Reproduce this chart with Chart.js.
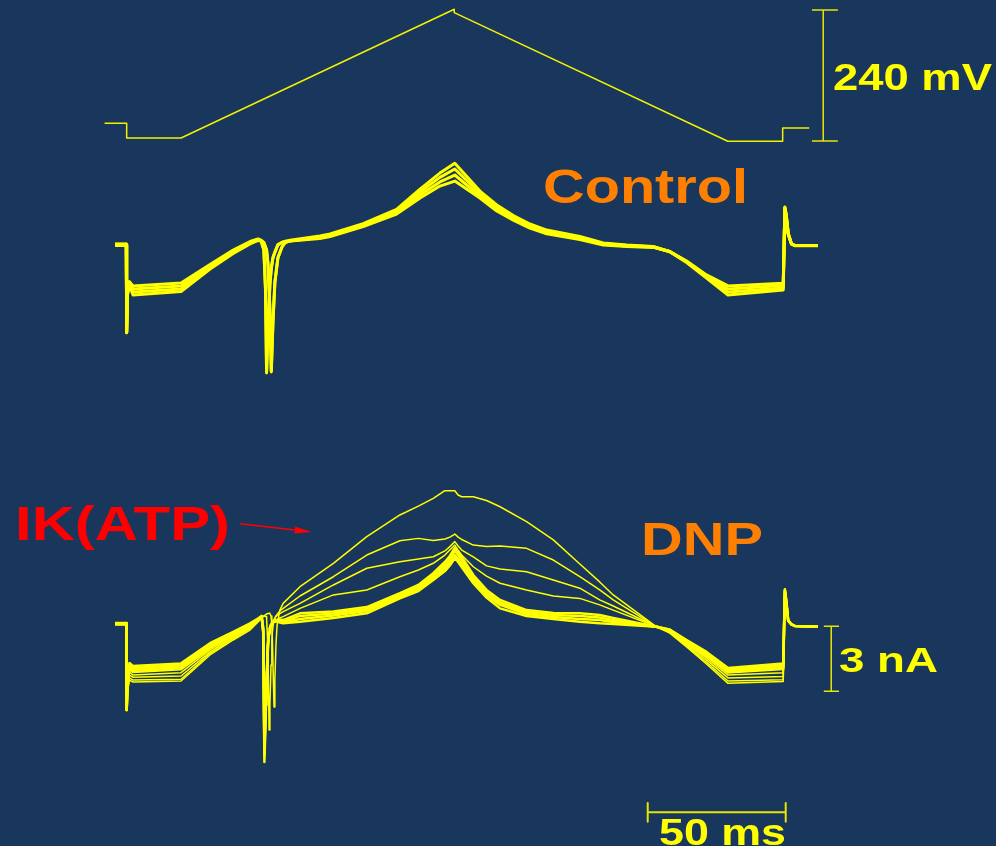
<!DOCTYPE html>
<html>
<head>
<meta charset="utf-8">
<script src="https://cdn.jsdelivr.net/npm/chart.js@4"></script>
<style>
html,body{margin:0;padding:0;background:#19365d;overflow:hidden;}
canvas{display:block;}
</style>
</head>
<body>
<canvas id="c" width="996" height="846"></canvas>
<script>
// ---------- DATA (time in ms, voltage in mV, current in nA) ----------
const protoTime    = [-8.0, 0.0, 0.0, 19.7, 118.7, 118.7, 217.8, 237.7, 237.7, 247.3];
const protoVoltage = [-87.6, -87.6, -114.5, -114.5, 121.3, 115.1, -120.5, -120.5, -96.2, -96.2];

const ctrlTime = [-4.2, -0.15, 0.0, 0.3, 1.0, 2.3, 19.7, 30.2, 38.6, 44.7, 47.6, 48.7, 49.7, 50.3, 50.7, 51.2, 51.9, 52.4, 53.0, 53.7, 54.8, 56.3, 57.4, 59.2, 70.0, 73.7, 85.7, 97.8, 106.3, 113.5, 118.9, 128.0, 134.1, 140.1, 146.1, 152.2, 164.2, 172.7, 181.2, 190.8, 196.8, 202.9, 210.1, 217.9, 237.9, 238.5, 239.0, 239.7, 240.9, 242.1, 250.5];
const ctrlSweep1 = [0.05, 0.05, -4.05, -2.30, -1.85, -2.31, -2.15, -1.11, -0.39, 0.05, 0.21, 0.18, -0.23, -2.08, -5.91, -3.92, -1.85, -1.10, -0.60, -0.35, 0.00, 0.12, 0.16, 0.22, 0.42, 0.51, 0.99, 1.64, 2.58, 3.32, 3.77, 2.49, 1.85, 1.36, 0.97, 0.69, 0.39, 0.09, 0.00, -0.07, -0.31, -0.81, -1.52, -2.31, -2.08, 1.75, 1.38, 0.55, 0.05, -0.02, -0.02];
const ctrlSweep2 = [0.03, 0.03, -4.00, -2.25, -1.78, -2.17, -2.03, -1.04, -0.34, 0.09, 0.23, 0.20, 0.10, -0.10, -0.25, -0.90, -3.00, -5.86, -3.60, -1.75, -0.60, -0.09, 0.10, 0.20, 0.37, 0.48, 0.95, 1.57, 2.45, 3.12, 3.51, 2.38, 1.75, 1.29, 0.90, 0.63, 0.35, 0.06, -0.02, -0.08, -0.31, -0.78, -1.48, -2.17, -1.98, 1.70, 1.35, 0.52, 0.04, -0.02, -0.02];
const ctrlSweep3 = [0.01, 0.01, -4.05, -2.20, -1.72, -2.03, -1.89, -0.97, -0.28, 0.12, 0.25, 0.20, -0.20, -2.00, -5.85, -3.85, -1.80, -1.05, -0.58, -0.32, 0.02, 0.13, 0.17, 0.19, 0.35, 0.44, 0.90, 1.50, 2.31, 2.91, 3.23, 2.26, 1.66, 1.22, 0.85, 0.58, 0.30, 0.03, -0.05, -0.09, -0.30, -0.76, -1.43, -2.03, -1.87, 1.72, 1.36, 0.53, 0.05, -0.03, -0.03];
const ctrlSweep4 = [-0.02, -0.02, -4.00, -2.15, -1.69, -1.89, -1.75, -0.90, -0.23, 0.16, 0.28, 0.22, 0.12, -0.08, -0.22, -0.85, -2.95, -5.80, -3.55, -1.70, -0.58, -0.08, 0.12, 0.18, 0.30, 0.39, 0.85, 1.43, 2.17, 2.72, 2.95, 2.17, 1.57, 1.15, 0.78, 0.52, 0.25, 0.00, -0.07, -0.11, -0.30, -0.74, -1.38, -1.89, -1.77, 1.68, 1.33, 0.50, 0.04, -0.02, -0.02];

const dnpTime = [-4.2, -0.15, 0.0, 0.3, 1.0, 2.3, 19.7, 30.2, 38.6, 44.7, 47.6, 48.9, 49.5, 49.9, 50.5, 50.7, 51.2, 51.6, 51.9, 52.3, 52.6, 52.8, 53.2, 53.4, 53.7, 54.1, 54.5, 55.5, 56.7, 62.8, 74.9, 87.0, 99.0, 105.7, 111.1, 115.3, 117.1, 118.9, 120.1, 121.4, 125.6, 130.4, 135.3, 144.9, 154.6, 164.2, 171.4, 176.3, 192.0, 196.8, 202.9, 210.1, 217.9, 237.9, 238.5, 239.0, 239.7, 240.9, 242.1, 250.5];
const dnpSweepA = [0.09, 0.09, -3.65, -3.00, -2.45, -2.54, -2.49, -1.29, -0.60, -0.14, 0.23, 0.42, 0.48, 0.53, 0.58, 0.60, 0.62, 0.63, 0.62, 0.51, 0.09, -0.60, -2.68, -3.69, -2.45, -0.83, 0.09, 0.78, 1.09, 1.86, 2.94, 4.17, 5.17, 5.58, 5.94, 6.29, 6.29, 6.29, 6.09, 6.01, 6.01, 5.84, 5.55, 4.86, 4.02, 2.91, 2.08, 1.48, 0.01, -0.28, -0.92, -1.71, -2.60, -2.52, 1.75, 1.25, 0.32, 0.12, 0.05, 0.01];
const dnpSweepB = [0.11, 0.11, -3.83, -2.91, -2.35, -2.45, -2.41, -1.22, -0.54, -0.09, 0.28, 0.46, 0.51, 0.51, 0.48, 0.42, -1.06, -4.75, -3.60, -1.75, -0.60, -0.23, 0.18, 0.32, 0.42, 0.51, 0.58, 0.74, 0.86, 1.43, 2.32, 3.32, 3.98, 4.09, 3.99, 4.06, 4.15, 4.29, 4.15, 4.04, 3.78, 3.71, 3.74, 3.63, 3.09, 2.32, 1.71, 1.25, 0.01, -0.25, -0.88, -1.62, -2.49, -2.43, 1.73, 1.22, 0.32, 0.12, 0.05, 0.01];
const dnpSweepC = [0.12, 0.12, -3.83, -2.82, -2.22, -2.32, -2.26, -1.15, -0.48, -0.05, 0.30, 0.44, -0.23, -4.98, -2.82, -2.26, -0.65, -0.23, 0.00, 0.14, 0.21, 0.25, 0.32, 0.37, 0.42, 0.48, 0.53, 0.62, 0.71, 1.09, 1.94, 2.71, 3.01, 3.14, 3.24, 3.51, 3.71, 3.94, 3.74, 3.55, 3.24, 2.82, 2.68, 2.55, 2.17, 1.79, 1.25, 0.97, 0.01, -0.23, -0.83, -1.52, -2.35, -2.29, 1.71, 1.20, 0.32, 0.12, 0.05, 0.01];
const dnpSweepD = [0.14, 0.14, -3.83, -2.72, -2.08, -2.22, -2.11, -1.06, -0.44, 0.00, 0.32, 0.44, -0.14, -5.45, -3.05, -2.45, -0.74, -0.25, -0.02, 0.12, 0.18, 0.21, 0.25, 0.28, 0.30, 0.32, 0.35, 0.42, 0.48, 0.86, 1.48, 1.71, 2.32, 2.63, 2.94, 3.32, 3.55, 3.78, 3.55, 3.32, 2.78, 2.35, 2.02, 1.71, 1.43, 1.32, 1.02, 0.78, 0.01, -0.21, -0.78, -1.43, -2.22, -2.11, 1.71, 1.20, 0.32, 0.12, 0.05, 0.01];
const dnpSweepE = [0.18, 0.18, -3.83, -2.68, -1.94, -2.08, -1.95, -0.97, -0.37, 0.05, 0.32, 0.46, -0.32, -6.23, -3.60, -2.82, -0.88, -0.28, -0.05, 0.09, 0.16, 0.18, 0.23, 0.25, 0.28, 0.30, 0.32, 0.35, 0.32, 0.63, 0.72, 0.92, 1.56, 1.94, 2.48, 3.00, 3.28, 3.65, 3.46, 3.23, 2.40, 1.71, 1.25, 0.78, 0.65, 0.63, 0.55, 0.42, 0.01, -0.18, -0.74, -1.34, -2.10, -1.94, 1.74, 1.25, 0.32, 0.12, 0.05, 0.01];
const dnpSweepF = [0.17, 0.17, -3.83, -2.68, -1.85, -1.98, -1.86, -0.90, -0.32, 0.08, 0.35, 0.46, -0.23, -5.58, -3.18, -2.54, -0.78, -0.28, -0.05, 0.09, 0.16, 0.18, 0.23, 0.25, 0.28, 0.30, 0.30, 0.30, 0.24, 0.51, 0.62, 0.83, 1.48, 1.85, 2.38, 2.86, 3.14, 3.51, 3.32, 3.09, 2.28, 1.59, 1.13, 0.69, 0.55, 0.51, 0.44, 0.32, 0.01, -0.16, -0.69, -1.29, -2.03, -1.85, 1.71, 1.20, 0.30, 0.12, 0.05, 0.01];
const dnpSweepG = [0.16, 0.16, -3.83, -2.68, -1.75, -1.89, -1.77, -0.83, -0.28, 0.12, 0.37, 0.48, -0.14, -5.91, -3.37, -2.68, -0.83, -0.28, -0.05, 0.09, 0.16, 0.18, 0.23, 0.25, 0.28, 0.30, 0.28, 0.25, 0.21, 0.37, 0.53, 0.74, 1.40, 1.75, 2.28, 2.72, 2.98, 3.32, 3.14, 2.91, 2.15, 1.48, 1.02, 0.60, 0.46, 0.37, 0.32, 0.23, 0.01, -0.14, -0.65, -1.22, -1.96, -1.75, 1.66, 1.15, 0.28, 0.12, 0.05, 0.01];
const dnpSweepH = [0.15, 0.15, -3.83, -2.68, -1.66, -1.80, -1.68, -0.75, -0.22, 0.17, 0.39, 0.51, -0.05, -5.22, -2.91, -2.35, -0.69, -0.28, -0.05, 0.09, 0.16, 0.18, 0.23, 0.25, 0.28, 0.25, 0.25, 0.21, 0.17, 0.24, 0.42, 0.63, 1.32, 1.66, 2.17, 2.58, 2.84, 3.18, 3.00, 2.77, 2.02, 1.36, 0.86, 0.51, 0.37, 0.24, 0.17, 0.14, 0.01, -0.12, -0.60, -1.15, -1.89, -1.68, 1.62, 1.11, 0.28, 0.12, 0.05, 0.01];

// scale bars
const mvBarTime  = [248.3, 252.4, 257.7];   // cap start, bar, cap end (ms)
const mvBarRange = [120, -120];             // mV
const naBarTime  = [252.6, 255.3, 258.1];
const naBarRange = [0.03, -2.97];           // nA
const msBarTime  = [188.8, 238.8];          // 50 ms
const msBarLevel = [-8.12, -8.55, -8.99];   // tick top, bar, tick bottom (nA axis)

// ---------- BUILD ----------
const YEL = '#ffff00';
function series(t, v){ return t.map((x,i)=>({x:x, y:v[i]})); }
function ds(data, axis, width, color){
  return {data:data, yAxisID:axis, borderColor:color||YEL, borderWidth:width, pointRadius:0, fill:false, tension:0, spanGaps:false, borderJoinStyle:'round'};
}
function seg(x1,y1,x2,y2){ return [{x:x1,y:y1},{x:x2,y:y2}]; }
function joinSegs(list){ const out=[]; list.forEach((s,i)=>{ if(i) out.push({x:s[0].x, y:null}); out.push(...s); }); return out; }

const datasets = [];
datasets.push(ds(series(protoTime, protoVoltage), 'yV', 1.5, '#f2f200'));
[ctrlSweep4, ctrlSweep3, ctrlSweep2, ctrlSweep1].forEach(s=>datasets.push(ds(series(ctrlTime, s), 'yC', 3)));
[dnpSweepH, dnpSweepG, dnpSweepF, dnpSweepE].forEach(s=>datasets.push(ds(series(dnpTime, s), 'yD', 2.5)));
[dnpSweepD, dnpSweepC, dnpSweepB, dnpSweepA].forEach(s=>datasets.push(ds(series(dnpTime, s), 'yD', 1.5)));

datasets.push(ds(joinSegs([
  seg(mvBarTime[0], mvBarRange[0], mvBarTime[2], mvBarRange[0]),
  seg(mvBarTime[1], mvBarRange[0], mvBarTime[1], mvBarRange[1]),
  seg(mvBarTime[0], mvBarRange[1], mvBarTime[2], mvBarRange[1])
]), 'yV', 1.5, '#e6e600'));
datasets.push(ds(joinSegs([
  seg(naBarTime[0], naBarRange[0], naBarTime[2], naBarRange[0]),
  seg(naBarTime[1], naBarRange[0], naBarTime[1], naBarRange[1]),
  seg(naBarTime[0], naBarRange[1], naBarTime[2], naBarRange[1])
]), 'yD', 1.5, '#e6e600'));
datasets.push(ds(joinSegs([
  seg(msBarTime[0], msBarLevel[0], msBarTime[0], msBarLevel[2]),
  seg(msBarTime[0], msBarLevel[1], msBarTime[1], msBarLevel[1]),
  seg(msBarTime[1], msBarLevel[0], msBarTime[1], msBarLevel[2])
]), 'yD', 2, '#e6e600'));

const labels = [
  {text:'240 mV', x:833, y:90,  size:37, width:159, color:'#ffff00'},
  {text:'Control', x:543, y:203, size:49, width:205, color:'#ff8000'},
  {text:'DNP',    x:641, y:555, size:46, width:122, color:'#ff8000'},
  {text:'IK(ATP)', x:15, y:540, size:49, width:215, color:'#ff0000'},
  {text:'3 nA',   x:839, y:672, size:35, width:99,  color:'#ffff00'},
  {text:'50 ms',  x:659, y:845, size:37, width:127, color:'#ffff00'}
];

const bgPlugin = {
  id:'bg',
  beforeDraw(chart){
    const c = chart.ctx; c.save(); c.fillStyle='#19365d'; c.fillRect(0,0,chart.width,chart.height); c.restore();
  }
};
const labelPlugin = {
  id:'labels',
  afterDraw(chart){
    const c = chart.ctx;
    labels.forEach(l=>{
      c.save();
      c.font = 'bold ' + l.size + 'px "Liberation Sans", Arial, sans-serif';
      c.textBaseline = 'alphabetic';
      c.fillStyle = l.color;
      const w = c.measureText(l.text).width;
      c.translate(l.x, l.y);
      c.scale(l.width / w, 1);
      c.fillText(l.text, 0, 0);
      c.restore();
    });
    // red arrow
    c.save();
    c.strokeStyle = '#ff0000'; c.fillStyle = '#ff0000'; c.lineWidth = 1.5;
    const x1=240, y1=523.7, x2=311.7, y2=532;
    const ang = Math.atan2(y2-y1, x2-x1);
    const hx = x2 - 17*Math.cos(ang), hy = y2 - 17*Math.sin(ang);
    c.beginPath(); c.moveTo(x1,y1); c.lineTo(hx,hy); c.stroke();
    c.beginPath();
    c.moveTo(x2,y2);
    c.lineTo(hx + 3.5*Math.sin(ang), hy - 3.5*Math.cos(ang));
    c.lineTo(hx - 3.5*Math.sin(ang), hy + 3.5*Math.cos(ang));
    c.closePath(); c.fill();
    c.restore();
  }
};

new Chart(document.getElementById('c'), {
  type:'line',
  data:{datasets:datasets},
  options:{
    responsive:false, animation:false, events:[],
    layout:{padding:0},
    plugins:{legend:{display:false}, tooltip:{enabled:false}, title:{display:false}},
    scales:{
      x:{type:'linear', min:-45.9, max:315.0, display:false},
      yV:{type:'linear', min:-1411.7, max:138.3, display:false},
      yC:{type:'linear', min:-27.738, max:11.308, display:false},
      yD:{type:'linear', min:-10.108, max:28.938, display:false}
    }
  },
  plugins:[bgPlugin, labelPlugin]
});
</script>
</body>
</html>
